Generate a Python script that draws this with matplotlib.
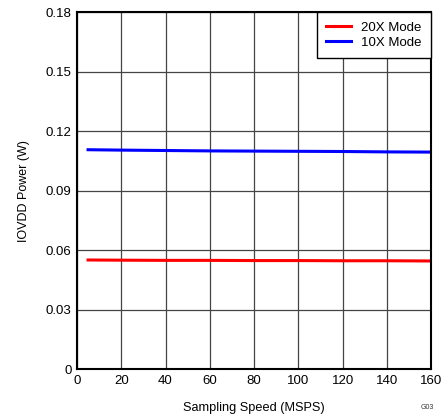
import matplotlib
matplotlib.use("Agg")
import matplotlib.pyplot as plt

plt.rcParams['font.family'] = ['Liberation Sans', 'DejaVu Sans']

speed = [5, 20, 40, 60, 80, 100, 120, 140, 160]
p20x = [0.0550, 0.0549, 0.0548, 0.0548, 0.0547, 0.0547, 0.0546, 0.0546, 0.0545]
p10x = [0.1106, 0.1104, 0.1102, 0.1100, 0.1099, 0.1098, 0.1097, 0.1095, 0.1094]
xticks = [0, 20, 40, 60, 80, 100, 120, 140, 160]
yticks = [0, 0.03, 0.06, 0.09, 0.12, 0.15, 0.18]
ytick_labels = ['0', '0.03', '0.06', '0.09', '0.12', '0.15', '0.18']

fig = plt.figure(figsize=(4.45, 4.17), dpi=100)
ax = fig.add_axes([0.173, 0.115, 0.796, 0.856])

ax.plot(speed, p20x, color='#ff0000', lw=2.2, label='20X Mode')
ax.plot(speed, p10x, color='#0000ff', lw=2.2, label='10X Mode')

ax.set_xlim(0, 160)
ax.set_ylim(0, 0.18)
ax.set_xticks(xticks)
ax.set_yticks(yticks)
ax.set_yticklabels(ytick_labels)
ax.grid(True, color='#444444', lw=0.9)
ax.set_axisbelow(True)
for s in ax.spines.values():
    s.set_linewidth(1.5)
    s.set_color('black')
ax.tick_params(length=0, labelsize=9.5, pad=4)
ax.set_xlabel('Sampling Speed (MSPS)', fontsize=9.2, labelpad=11)
ax.set_ylabel('IOVDD Power (W)', fontsize=9, labelpad=11)

leg = ax.legend(loc='upper right', fontsize=9.5, frameon=True, fancybox=False,
                edgecolor='black', borderaxespad=0, handlelength=1.9,
                handletextpad=0.8, labelspacing=0.25, borderpad=0.7)
leg.get_frame().set_linewidth(1.0)
leg.get_frame().set_alpha(1)

fig.text(0.975, 0.015, 'G03', fontsize=5, ha='right', va='bottom', color='#333333')

fig.savefig('out.png', dpi=100)
